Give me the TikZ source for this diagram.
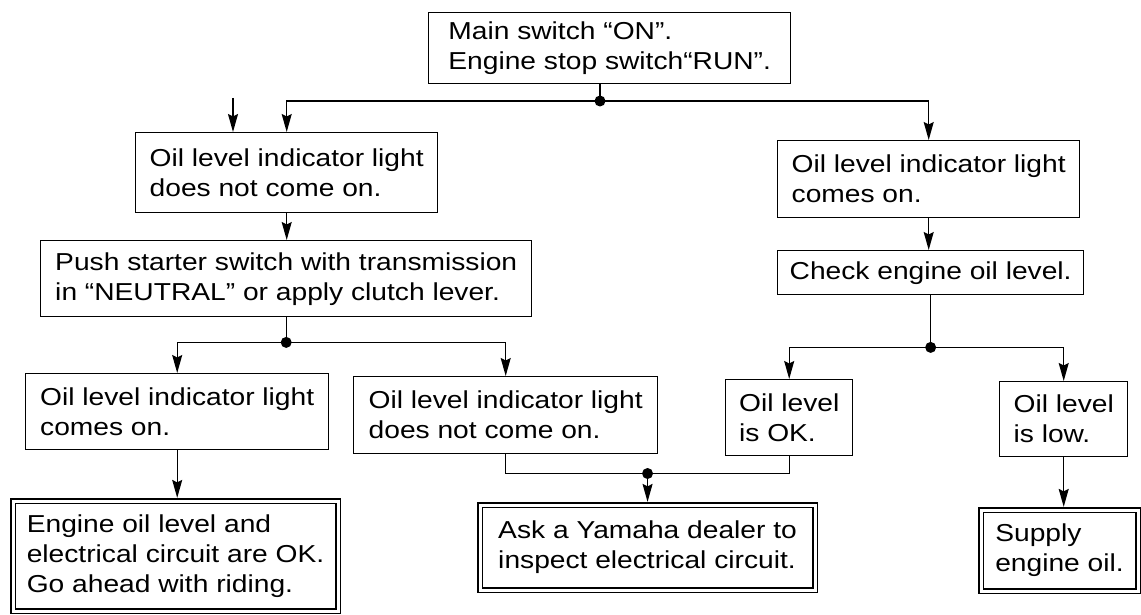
\documentclass[tikz,border=0pt]{standalone}
\usepackage{fontspec}
\setmainfont[FakeStretch=1.15]{Liberation Sans}
\usetikzlibrary{arrows.meta,calc}
\begin{document}
\begin{tikzpicture}[x=1pt,y=-1pt,
  txt/.style={font=\fontsize{24.5}{30}\selectfont},
  box/.style={txt, draw, line width=1.4pt, align=left, anchor=north west,
    inner xsep=12pt, inner ysep=0pt},
  endbox/.style={box, double, line width=1.1pt, double distance=3pt},
  arr/.style={-{Stealth[length=18pt,width=10pt,inset=2.5pt]}, line width=1.4pt},
  ln/.style={line width=1.4pt},
  dot/.style={circle, fill, inner sep=0pt, minimum size=11pt}]
\fill[white] (0,0) rectangle (1141,615);
\useasboundingbox (0,0) rectangle (1141,615);

% boxes
\node[box, minimum width=362pt, minimum height=71pt] (top) at (428,12)
  {Main switch “ON”.\\Engine stop switch“RUN”.};
\node[box, minimum width=302pt, minimum height=80pt] (L1) at (135,132)
  {Oil level indicator light\\does not come on.};
\node[box, minimum width=302pt, minimum height=77pt] (R1) at (777,140)
  {Oil level indicator light\\comes on.};
\node[box, minimum width=491pt, minimum height=76pt] (P) at (40,240)
  {Push starter switch with transmission\\in “NEUTRAL” or apply clutch lever.};
\node[box, minimum width=301pt, minimum height=44pt] (C) at (777,250)
  {Check engine oil level.};
\node[box, minimum width=303pt, minimum height=76pt] (A) at (25,373)
  {Oil level indicator light\\comes on.};
\node[box, minimum width=304pt, minimum height=77pt] (B) at (353,376)
  {Oil level indicator light\\does not come on.};
\node[box, minimum width=127pt, minimum height=76pt] (K) at (725,379)
  {Oil level\\is OK.};
\node[box, minimum width=128pt, minimum height=75pt] (W) at (999,381)
  {Oil level\\is low.};
\node[endbox, minimum width=325pt, minimum height=110pt] (E1) at (12.5,500.5)
  {Engine oil level and\\electrical circuit are OK.\\Go ahead with riding.};
\node[endbox, minimum width=335pt, minimum height=85pt] (F2) at (479.5,504.5)
  {Ask a Yamaha dealer to\\inspect electrical circuit.};
\node[endbox, minimum width=157pt, minimum height=81pt] (F3) at (980.5,509.5)
  {Supply\\engine oil.};

% junctions
\coordinate (j1) at (600,101);
\path (P.south) ++(0,25) coordinate (j2);
\path (C.south) ++(0,52) coordinate (j3);
\path (F2.north) ++(0,-31) coordinate (j4);
\coordinate (s1) at (233,98);

% connectors
\draw[ln] (top.south -| j1) -- (j1);
\draw[arr] (j1) -| (L1.north);
\draw[arr] (j1) -| (R1.north);
\draw[arr] (s1) -- (s1 |- L1.north);
\draw[arr] (L1.south) -- (L1.south |- P.north);
\draw[ln] (P.south) -- (j2);
\draw[arr] (j2) -| (A.north);
\draw[arr] (j2) -| (B.north);
\draw[arr] (R1.south) -- (R1.south |- C.north);
\draw[ln] (C.south) -- (j3);
\draw[arr] (j3) -| (K.north);
\draw[arr] (j3) -| (W.north);
\draw[arr, shorten >=2.6pt] (A.south) -- (A.south |- E1.north);
\draw[ln] (B.south) |- (j4) -| (K.south);
\draw[arr, shorten >=2.6pt] (j4) -- (F2.north);
\draw[arr, shorten >=2.6pt] (W.south) -- (W.south |- F3.north);

\node[dot] (n1) at (j1) {};
\node[dot] (n2) at (j2) {};
\node[dot] (n3) at (j3) {};
\node[dot] (n4) at (j4) {};
\end{tikzpicture}
\end{document}
